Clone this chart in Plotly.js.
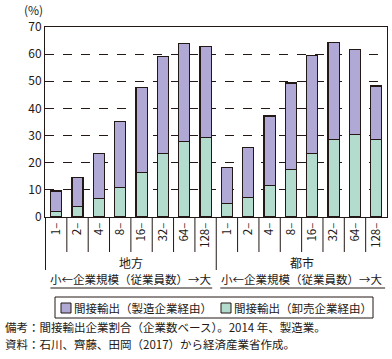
<!DOCTYPE html>
<html><head><meta charset="utf-8">
<script src="https://cdn.plot.ly/plotly-3.0.1.min.js"></script>
<style>body{margin:0;padding:0;background:#fff}#chart{width:392px;height:359px}</style>
</head><body><div id="chart"></div>
<script>
const regions = ['地方', '都市'];
const sizes = ['1–', '2–', '4–', '8–', '16–', '32–', '64–', '128–'];
// total indirect export share (%) and wholesale-via share (%), per region
const totalChiho = [9.6, 14.6, 23.5, 35.3, 47.6, 59.0, 63.8, 62.7];
const wholesaleChiho = [2.0, 3.9, 6.9, 10.9, 16.4, 23.5, 27.9, 29.4];
const totalToshi = [18.3, 25.7, 37.2, 49.4, 59.4, 64.2, 61.6, 48.3];
const wholesaleToshi = [5.0, 7.2, 11.6, 17.5, 23.5, 28.7, 30.5, 28.7];
const seriesNames = ['間接輸出（製造企業経由）', '間接輸出（卸売企業経由）'];
const seriesColors = ['#b1a9d5', '#b3dccf'];
const scaleLabel = '小←企業規模（従業員数）→大';
const notes = ['備考：間接輸出企業割合（企業数ベース）。2014 年、製造業。', '資料：石川、齊藤、田岡（2017）から経済産業省作成。'];

const keys = [], ticktext = [], wholesale = [], maker = [];
const totals = [totalChiho, totalToshi], wholes = [wholesaleChiho, wholesaleToshi];
regions.forEach((r, ri) => {
  sizes.forEach((s, si) => {
    keys.push(r + '|' + s);
    ticktext.push(s);
    wholesale.push(wholes[ri][si]);
    maker.push(+(totals[ri][si] - wholes[ri][si]).toFixed(1));
  });
});

const FONT = '"Noto Sans CJK JP", "Noto Sans", sans-serif';
const INK = '#231815';
const line = {color: INK, width: 1.2};
const traces = [
  {type: 'bar', x: keys, y: wholesale, name: seriesNames[1], marker: {color: seriesColors[1], line: line}, showlegend: false},
  {type: 'bar', x: keys, y: maker, name: seriesNames[0], marker: {color: seriesColors[0], line: line}, showlegend: false}
];

// pixel helpers for the fixed 392x359 frame (plot area: x 45..387, y 27..217)
const PX = px => (px - 45) / 342;
const PY = py => (217 - py) / 190;

const shapes = [];
const n = keys.length;
for (let i = 0; i < n - 1; i++) {
  const isGroup = (i === sizes.length - 1);
  shapes.push({type: 'line', xref: 'x', yref: 'paper', x0: i + 0.5, x1: i + 0.5, y0: 0, y1: isGroup ? PY(270) : PY(252), line: {color: INK, width: 1}});
}
shapes.push({type: 'line', xref: 'x', yref: 'paper', x0: -0.5, x1: -0.5, y0: 0, y1: PY(270), line: {color: INK, width: 1}});
// underlines under scale labels
shapes.push({type: 'line', xref: 'x', yref: 'paper', x0: -0.27, x1: 7.31, y0: PY(288), y1: PY(288), line: {color: INK, width: 1}});
shapes.push({type: 'line', xref: 'x', yref: 'paper', x0: 7.69, x1: 15.41, y0: PY(288), y1: PY(288), line: {color: INK, width: 1}});
// legend box and swatches
shapes.push({type: 'rect', xref: 'paper', yref: 'paper', x0: PX(55), x1: PX(373), y0: PY(297), y1: PY(318), line: {color: INK, width: 1}, fillcolor: 'rgba(0,0,0,0)'});
shapes.push({type: 'rect', xref: 'paper', yref: 'paper', x0: PX(61), x1: PX(71), y0: PY(303), y1: PY(313), line: {color: INK, width: 1}, fillcolor: seriesColors[0]});
shapes.push({type: 'rect', xref: 'paper', yref: 'paper', x0: PX(221), x1: PX(231), y0: PY(303), y1: PY(313), line: {color: INK, width: 1}, fillcolor: seriesColors[1]});

const f = (s) => ({size: s, family: FONT, color: INK});
const ann = (text, xref, x, y, size, xanchor) => ({text: text, xref: xref, yref: 'paper', x: x, y: y,
  xanchor: xanchor || 'center', yanchor: 'middle', showarrow: false, font: f(size)});
const annotations = [
  ann('(%)', 'paper', PX(33), PY(10), 12),
  ann(regions[0], 'x', 3.5, PY(262), 12),
  ann(regions[1], 'x', 11.5, PY(262), 12),
  ann(scaleLabel, 'x', 3.5, PY(279), 11.5),
  ann(scaleLabel, 'x', 11.5, PY(279), 11.5),
  ann(seriesNames[0], 'paper', PX(72), PY(308), 11.5, 'left'),
  ann(seriesNames[1], 'paper', PX(232), PY(308), 11.5, 'left'),
  ann(notes[0], 'paper', PX(3), PY(327), 11.5, 'left'),
  ann(notes[1], 'paper', PX(3), PY(344), 11.5, 'left')
];

const layout = {
  width: 392, height: 359,
  margin: {l: 45, r: 5, t: 27, b: 142, autoexpand: false},
  barmode: 'stack', bargap: 0.48,
  paper_bgcolor: '#fff', plot_bgcolor: '#fff',
  font: {family: FONT, color: INK, size: 12},
  showlegend: false,
  xaxis: {type: 'category', tickvals: keys, ticktext: ticktext, tickangle: -90, showline: true, mirror: true,
    linecolor: INK, linewidth: 1, ticks: '', tickfont: f(11.5), showgrid: false, automargin: false},
  yaxis: {range: [0, 70], dtick: 10, showline: true, mirror: true, linecolor: INK, linewidth: 1,
    showgrid: true, gridcolor: INK, gridwidth: 1, griddash: 'dash', zeroline: false, ticks: '',
    tickfont: f(12), automargin: false},
  shapes: shapes, annotations: annotations
};
Plotly.newPlot('chart', traces, layout, {displayModeBar: false, staticPlot: true});
</script></body></html>
